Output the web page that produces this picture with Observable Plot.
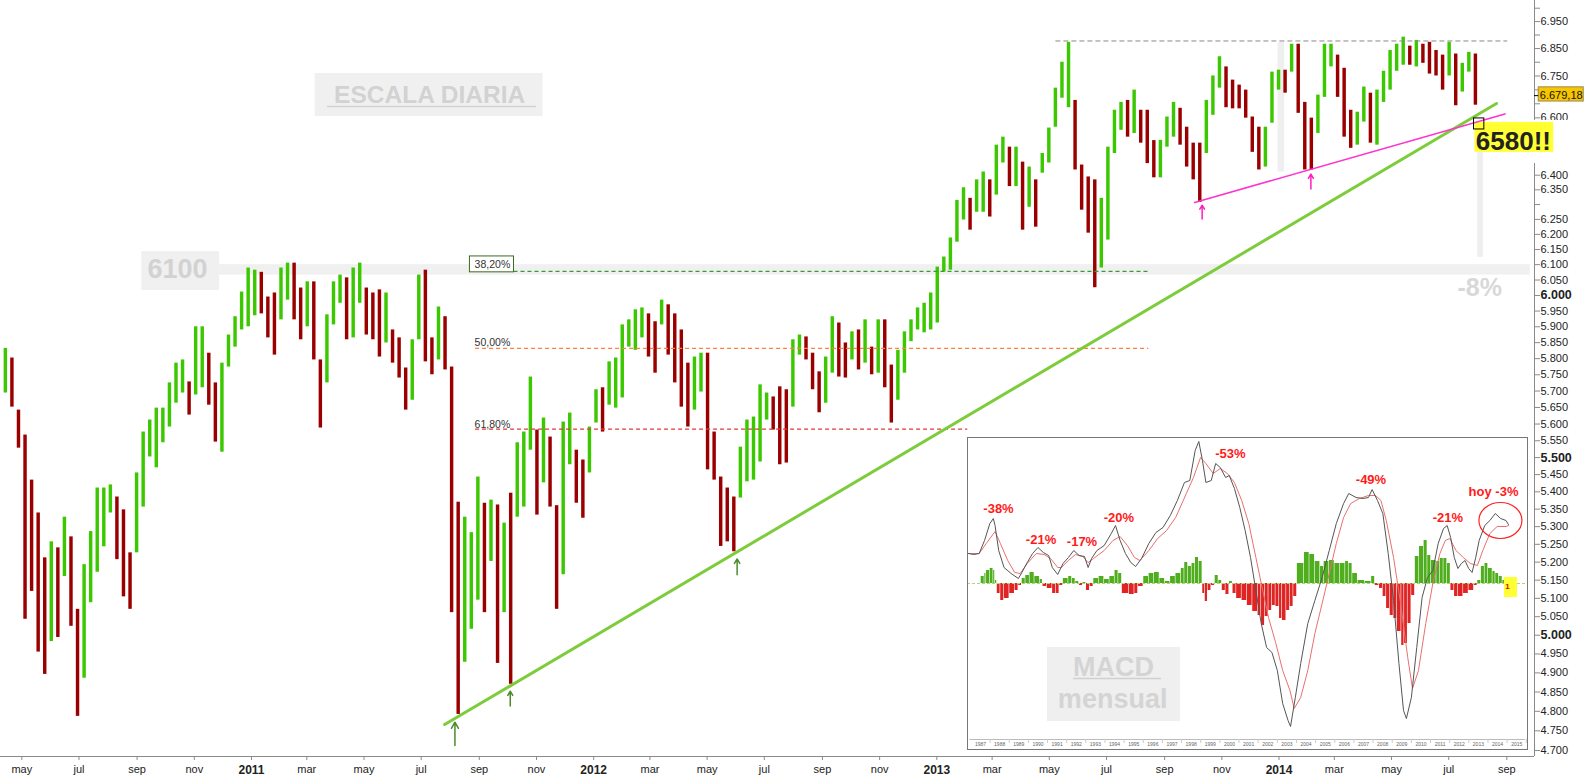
<!DOCTYPE html>
<html><head><meta charset="utf-8">
<script src="https://cdn.jsdelivr.net/npm/d3@7"></script>
<script src="https://cdn.jsdelivr.net/npm/@observablehq/plot@0.6"></script>
<style>
body{margin:0;background:#fff;}
#wrap{position:relative;width:1589px;height:776px;overflow:hidden;background:#fff;}
#wrap svg{display:block;}
</style></head><body><div id="wrap"></div>
<script>
// ---------- DATA: FTSE 100, weekly ranges ----------
const weekStart = "2010-04-14"; // Wednesday of first week, one bar per week
const highs = [
5832,5802,5642,5567,5434,5339,5212,5257,5240,5327,
5271,5070,5193,5286,5411,5411,5420,5385,5348,5226,
5455,5576,5612,5648,5648,5725,5786,5796,5728,5900,
5900,5817,5725,5786,5874,5932,6011,6089,6082,6075,
5995,6008,6089,6105,6105,6024,6044,6044,5796,5938,
6044,6066,6057,6089,6105,6024,6008,6018,6008,5890,
5865,5771,5859,6066,6082,5865,5963,5932,5774,5370,
5327,5283,5443,5367,5376,5362,5310,5396,5544,5576,
5743,5582,5618,5561,5360,5606,5633,5522,5493,5591,
5704,5710,5790,5802,5906,5922,5954,5960,5941,5916,
5985,5970,5941,5890,5786,5805,5817,5817,5576,5443,
5411,5385,5531,5612,5621,5719,5694,5682,5713,5704,
5859,5874,5868,5817,5759,5805,5932,5912,5849,5884,
5890,5922,5836,5922,5922,5780,5826,5884,5922,5960,
5975,6008,6092,6125,6188,6314,6357,6321,6384,6411,
6384,6504,6532,6497,6497,6445,6428,6384,6475,6564,
6706,6800,6873,6662,6435,6394,6384,6321,6497,6627,
6655,6662,6699,6627,6627,6520,6521,6603,6655,6634,
6567,6511,6511,6662,6750,6820,6783,6735,6717,6699,
6603,6567,6567,6764,6771,6771,6866,6866,6655,6599,
6681,6866,6866,6826,6778,6627,6620,6710,6688,6699,
6767,6843,6866,6892,6859,6880,6866,6873,6843,6826,
6873,6830,6796,6836,6830];
const lows = [
5694,5651,5528,5043,5119,4955,4896,4983,4994,5160,
5024,4787,4886,5088,5172,5243,5339,5207,5104,5070,
5226,5356,5502,5470,5544,5591,5663,5694,5627,5688,
5710,5657,5546,5516,5774,5836,5890,5900,5935,5941,
5865,5811,5922,5985,5922,5859,5900,5796,5588,5725,
5906,5975,5859,5865,5975,5874,5859,5805,5849,5786,
5740,5642,5672,5859,5790,5750,5796,5765,5061,4792,
4928,5016,5095,5061,5202,4925,5061,4870,5327,5356,
5522,5333,5426,5356,5070,5165,5479,5367,5324,5455,
5603,5576,5657,5648,5679,5836,5826,5865,5805,5755,
5906,5811,5725,5651,5591,5642,5697,5464,5434,5244,
5257,5229,5382,5429,5434,5487,5612,5582,5479,5484,
5651,5811,5796,5704,5634,5663,5755,5743,5740,5796,
5765,5786,5750,5755,5710,5603,5672,5755,5853,5890,
5881,5890,5912,6076,6082,6174,6248,6214,6274,6274,
6258,6332,6442,6361,6361,6214,6291,6224,6407,6442,
6567,6670,6636,6418,6281,6204,6025,6089,6181,6475,
6556,6532,6545,6511,6440,6391,6391,6497,6532,6504,
6428,6384,6307,6475,6609,6706,6636,6632,6632,6599,
6479,6418,6428,6581,6699,6688,6764,6616,6418,6418,
6545,6673,6783,6673,6532,6493,6504,6585,6511,6504,
6655,6699,6767,6789,6789,6783,6796,6757,6750,6699,
6750,6643,6692,6764,6645];
const lastClose = 6679.18;
const lastCloseLabel = "6.679,18";

// Fibonacci retracement (4785 -> 6878)
const fibLabels = ["38,20%", "50,00%", "61,80%"];
const fibValues = [6078, 5832, 5585];
const fibStart = ["2011-10-08", "2011-08-28", "2011-08-28"];
const fibEnd = ["2013-08-15", "2013-08-15", "2013-02-03"];
const fibLabelValues = [6101, 5851, 5599];
const fibLabelDate = "2011-09-15";
const topLevel = 6878, topLevelDates = ["2013-05-08", "2014-09-02"];

// trendlines [date, value]
const greenTrend = [["2011-07-26", 4766], ["2014-08-21", 6651]];
const pinkTrend = [["2013-10-03", 6307], ["2014-08-30", 6614]];
// arrows [date, bottom, tip]
const greenArrows = [["2011-08-06", 4713, 4772], ["2011-10-04", 4814, 4852], ["2012-06-02", 5165, 5209]];
const pinkArrows = [["2013-10-11", 6251, 6298], ["2014-02-04", 6353, 6404]];

// annotation boxes [date1, date2, value1, value2]
const band6100 = ["2010-11-28", "2014-09-26", 6066, 6100];
const box6100 = ["2010-09-06", "2010-11-28", 6016, 6143];
const escalaBox = ["2011-03-10", "2011-11-08", 6605, 6759];
const janBar = ["2013-12-31", "2014-01-07", 6411, 6872];
const fib38Box = ["2011-08-22", "2011-10-08", 6075, 6127];
const whiteBox = ["2014-07-28", "2014-11-27", 6440, 6591];
const dropBar = ["2014-08-01", "2014-08-07", 6124, 6479];
const yellowBox = ["2014-07-29", "2014-10-21", 6479, 6584];
const crossBox = ["2014-07-28", "2014-08-08", 6559, 6598];
const priceBox = ["2014-10-05", "2014-11-22", 6658, 6709];
// annotation texts [text, date, value]
const mainTexts = [
  ["ESCALA DIARIA", "2011-07-10", 6680],
  ["6100", "2010-10-14", 6086],
  ["6580!!", "2014-09-08", 6515],
  ["-8%", "2014-08-03", 6025]
];
const escalaUnderline = ["2011-03-23", "2011-11-01", 6640];

// axis ticks (labels hidden behind the annotations are left blank)
const yUnlabeled = [6300, 6450, 6500, 6550, 6650, 6700, 6800, 6900, 7000];
const yBold = ["6.000", "5.500", "5.000"];
const monthNames = ["ene","feb","mar","abr","may","jun","jul","ago","sep","oct","nov","dic"];

// ---------- MACD mensual inset (arbitrary units, zero = histogram baseline) ----------
const macdLine = [[1986.37,30],[1986.65,29],[1986.93,30],[1987.21,43],[1987.49,60],[1987.67,65],[1987.76,58],[1987.95,33],[1988.23,16],[1988.60,10],[1988.98,5],[1989.16,11],[1989.44,21],[1989.72,30],[1990.00,36],[1990.28,31],[1990.56,28],[1990.75,16],[1991.03,9],[1991.31,20],[1991.59,26],[1991.87,33],[1992.15,28],[1992.43,27],[1992.62,16],[1992.80,25],[1993.08,33],[1993.46,38],[1993.83,50],[1994.05,58],[1994.29,43],[1994.57,30],[1994.85,21],[1995.10,17],[1995.41,25],[1995.79,40],[1996.16,51],[1996.53,56],[1996.91,68],[1997.28,83],[1997.65,101],[1997.93,103],[1998.21,133],[1998.40,142],[1998.59,123],[1998.77,101],[1999.05,103],[1999.28,120],[1999.52,116],[1999.80,106],[1999.99,108],[2000.26,95],[2000.54,76],[2000.82,53],[2001.10,26],[2001.38,-7],[2001.66,-40],[2001.94,-64],[2002.22,-69],[2002.50,-87],[2002.78,-120],[2003.06,-137],[2003.19,-143],[2003.44,-114],[2003.72,-80],[2004.09,-40],[2004.46,-17],[2004.84,6],[2005.21,33],[2005.58,60],[2005.96,80],[2006.23,90],[2006.61,86],[2006.98,85],[2007.26,86],[2007.45,94],[2007.73,83],[2008.01,70],[2008.29,30],[2008.57,-17],[2008.85,-80],[2009.09,-127],[2009.24,-135],[2009.50,-114],[2009.78,-64],[2010.06,-14],[2010.34,6],[2010.62,13],[2010.90,40],[2011.18,55],[2011.37,58],[2011.55,46],[2011.74,26],[2011.93,15],[2012.11,20],[2012.30,23],[2012.49,15],[2012.67,11],[2012.86,26],[2013.04,43],[2013.33,58],[2013.60,63],[2013.88,70],[2014.16,65],[2014.44,63],[2014.57,59]];
const signalLine = [[1986.37,30],[1986.93,30],[1987.30,40],[1987.76,52],[1988.04,40],[1988.42,23],[1988.79,11],[1989.07,10],[1989.44,20],[1989.91,30],[1990.32,29],[1990.66,25],[1991.03,16],[1991.22,16],[1991.59,23],[1991.96,29],[1992.34,27],[1992.62,21],[1992.90,25],[1993.46,33],[1993.92,43],[1994.29,47],[1994.67,38],[1995.04,26],[1995.32,23],[1995.79,33],[1996.25,45],[1996.72,53],[1997.19,66],[1997.75,90],[1998.12,106],[1998.49,126],[1998.77,120],[1999.15,110],[1999.52,115],[1999.89,110],[2000.26,101],[2000.64,83],[2001.01,60],[2001.38,26],[2001.66,0],[2002.04,-34],[2002.41,-59],[2002.78,-87],[2003.16,-107],[2003.38,-125],[2003.72,-114],[2004.09,-87],[2004.46,-50],[2004.84,-20],[2005.21,10],[2005.58,40],[2005.96,66],[2006.33,80],[2006.79,85],[2007.26,88],[2007.63,88],[2007.91,83],[2008.19,63],[2008.57,26],[2008.94,-20],[2009.31,-74],[2009.56,-105],[2009.87,-87],[2010.25,-40],[2010.62,0],[2010.99,30],[2011.27,43],[2011.51,45],[2011.83,33],[2012.21,26],[2012.58,20],[2012.95,18],[2013.23,33],[2013.60,50],[2013.98,57],[2014.44,57],[2014.57,58]];
const histogram = [[1987.02,7],[1987.21,10],[1987.30,13],[1987.49,15],[1987.67,13],[1987.76,3],[1987.86,-10],[1988.04,-17],[1988.23,-15],[1988.51,-10],[1988.79,-7],[1988.98,-2],[1989.16,5],[1989.35,8],[1989.57,11],[1989.82,7],[1990.10,4],[1990.25,-3],[1990.47,-5],[1990.75,-10],[1990.94,-10],[1991.12,-2],[1991.31,5],[1991.59,7],[1991.78,5],[1991.96,2],[1992.15,-2],[1992.34,1],[1992.52,-7],[1992.71,-3],[1992.90,5],[1993.18,7],[1993.46,4],[1993.74,7],[1994.01,13],[1994.20,10],[1994.39,-10],[1994.76,-11],[1995.04,-10],[1995.23,-3],[1995.51,7],[1995.79,10],[1996.07,11],[1996.35,5],[1996.63,2],[1996.91,7],[1997.19,10],[1997.47,15],[1997.65,21],[1997.84,17],[1998.03,20],[1998.21,26],[1998.40,22],[1998.59,-10],[1998.72,-18],[1998.87,-7],[1999.05,-2],[1999.24,8],[1999.43,3],[1999.61,-7],[1999.80,-11],[1999.99,2],[2000.17,-10],[2000.36,-15],[2000.64,-17],[2000.92,-22],[2001.20,-28],[2001.48,-32],[2001.66,-42],[2001.85,-33],[2002.04,-27],[2002.22,-22],[2002.41,-23],[2002.60,-35],[2002.75,-37],[2002.97,-27],[2003.16,-23],[2003.34,-13],[2003.53,20],[2003.90,31],[2004.18,29],[2004.46,22],[2004.74,17],[2004.93,22],[2005.21,23],[2005.49,20],[2005.77,20],[2006.05,22],[2006.23,20],[2006.42,10],[2006.70,3],[2007.07,2],[2007.41,7],[2007.60,-2],[2007.82,-5],[2008.01,-13],[2008.19,-25],[2008.38,-32],[2008.57,-35],[2008.75,-48],[2008.98,-62],[2009.13,-60],[2009.31,-40],[2009.50,-12],[2009.69,27],[2009.91,37],[2010.15,43],[2010.34,28],[2010.53,23],[2010.81,22],[2010.99,25],[2011.18,25],[2011.37,20],[2011.55,-7],[2011.74,-13],[2011.93,-13],[2012.21,-10],[2012.49,-7],[2012.77,-2],[2012.95,3],[2013.14,17],[2013.33,20],[2013.51,15],[2013.74,12],[2013.89,10],[2014.07,7],[2014.26,3],[2014.44,2]];
const insetYears = [1987,1988,1989,1990,1991,1992,1993,1994,1995,1996,1997,1998,1999,2000,2001,2002,2003,2004,2005,2006,2007,2008,2009,2010,2011,2012,2013,2014,2015];
// [label, year, value]
const insetLabels = [["-38%",1987.94,75],["-21%",1990.16,44],["-17%",1992.30,42],["-20%",1994.23,66],["-53%",2000.05,130],["-49%",2007.39,104],["-21%",2011.41,66],["hoy -3%",2013.79,92]];
const todayCircle = [2014.15, 63];
const todayBox = [2014.36, 2015.04, -14, 6];
const todayMark = ["1", 2014.52, -3];
const macdBox = [1990.5, 1997.44, -138, -64];
const macdTexts = [["MACD", 1993.95, -84], ["mensual", 1993.9, -116]];
const macdUnderline = [1991.86, 1996.45, -95];

// ---------- STYLES ----------
const UP = "#3cc800", DOWN = "#9a0000";
const fibColors = ["#3a9a3a", "#ff8040", "#e03a3a"];
const FONT = "'Liberation Sans', Arial, sans-serif";

// ---------- BUILD ----------
const D = s => new Date(s + "T00:00:00Z");
const box = a => ({x1: D(a[0]), x2: D(a[1]), y1: a[2], y2: a[3]});
const weeks = highs.map((h, i) => ({date: d3.utcDay.offset(D(weekStart), 7 * i), high: h, low: lows[i]}));
weeks.forEach((w, i) => {
  const m = (w.high + w.low) / 2;
  const p = i ? (weeks[i - 1].high + weeks[i - 1].low) / 2 : m;
  w.up = m >= p;
});
const fib = fibValues.map((v, i) => ({v, x1: D(fibStart[i]), x2: D(fibEnd[i]), label: fibLabels[i], ly: fibLabelValues[i], color: fibColors[i]}));
const xDomain = [new Date("2010-04-08T07:00:00Z"), new Date("2014-09-30T12:00:00Z")];
const yDomain = [4685, 7029];
const yTicks = d3.range(4700, 7001, 50);
const xTicks = d3.utcMonth.every(2).range(D("2010-05-01"), D("2014-10-01"));
const fmtY = v => (v / 1000).toFixed(3);
const rectOpts = (color, extra = {}) => ({x1: "x1", x2: "x2", y1: "y1", y2: "y2", fill: color, ...extra});
const textAt = (arr, opts) => Plot.text([arr], {x: d => D(d[1]), y: d => d[2], text: d => d[0], ...opts});

const main = Plot.plot({
  width: 1589, height: 776,
  marginLeft: 0, marginRight: 55, marginTop: 0, marginBottom: 20,
  style: {fontFamily: FONT, background: "#fff", overflow: "visible"},
  x: {type: "utc", domain: xDomain},
  y: {type: "log", domain: yDomain},
  marks: [
    Plot.rect([box(band6100)], rectOpts("#f0f0f0")),
    Plot.rect([box(janBar)], rectOpts("#efefef")),
    Plot.rect(weeks, {x1: d => d3.utcHour.offset(d.date, -44), x2: d => d3.utcHour.offset(d.date, 44), y1: "low", y2: "high", fill: d => d.up ? UP : DOWN}),
    Plot.ruleY(fib, {y: "v", x1: "x1", x2: "x2", stroke: "color", strokeWidth: 1.2, strokeDasharray: "4,3"}),
    Plot.rect([box(fib38Box)], rectOpts("#fff", {stroke: "#3d6b1f", strokeWidth: 1})),
    Plot.text(fib, {x: D(fibLabelDate), y: "ly", text: "label", fontSize: 10.5, fill: "#333"}),
    Plot.ruleY([topLevel], {x1: D(topLevelDates[0]), x2: D(topLevelDates[1]), stroke: "#888", strokeDasharray: "5,3"}),
    Plot.rect([box(escalaBox)], rectOpts("#f0f0f0")),
    textAt(mainTexts[0], {fontSize: 24.5, fontWeight: "bold", fill: "#d2d2d2"}),
    Plot.ruleY([escalaUnderline], {y: d => d[2], x1: d => D(d[0]), x2: d => D(d[1]), stroke: "#d2d2d2", strokeWidth: 1.5}),
    Plot.rect([box(box6100)], rectOpts("#f0f0f0")),
    textAt(mainTexts[1], {fontSize: 27, fontWeight: "bold", fill: "#d2d2d2"}),
    Plot.ruleX([xDomain[1]], {stroke: "#8a8a8a"}),
    Plot.ruleY([yDomain[0]], {stroke: "#8a8a8a"}),
    Plot.axisY(yTicks, {anchor: "right", tickSize: 5, tickPadding: 1, fontSize: 11, stroke: "#8a8a8a", fill: "#222", label: null,
      tickFormat: v => yUnlabeled.includes(v) ? "" : fmtY(v)}),
    Plot.axisX(xTicks, {anchor: "bottom", tickSize: 4, tickPadding: 5, fontSize: 11, stroke: "#8a8a8a", fill: "#222", label: null,
      tickFormat: d => d.getUTCMonth() === 0 ? String(d.getUTCFullYear()) : monthNames[d.getUTCMonth()]}),
    Plot.rect([box(whiteBox)], rectOpts("#fff")),
    Plot.rect([box(dropBar)], rectOpts("#eeeeee")),
    Plot.rect([box(yellowBox)], rectOpts("#ffff33")),
    textAt(mainTexts[2], {fontSize: 26, fontWeight: "bold", fill: "#222"}),
    textAt(mainTexts[3], {fontSize: 25, fontWeight: "bold", fill: "#d8d8d8"}),
    Plot.line(greenTrend, {x: d => D(d[0]), y: d => d[1], stroke: "#7dcc3c", strokeWidth: 3}),
    Plot.line(pinkTrend, {x: d => D(d[0]), y: d => d[1], stroke: "#ff33cc", strokeWidth: 1.6}),
    Plot.arrow(greenArrows, {x1: d => D(d[0]), x2: d => D(d[0]), y1: d => d[1], y2: d => d[2], stroke: "#4d8a2e", strokeWidth: 1.5, headLength: 7}),
    Plot.arrow(pinkArrows, {x1: d => D(d[0]), x2: d => D(d[0]), y1: d => d[1], y2: d => d[2], stroke: "#ff1fbf", strokeWidth: 1.5, headLength: 7}),
    Plot.rect([box(crossBox)], rectOpts("none", {stroke: "#000", strokeWidth: 1})),
    Plot.rect([box(priceBox)], rectOpts("#f7c600", {stroke: "#9a8a50", strokeWidth: 1})),
    Plot.ruleY([lastClose], {x1: xDomain[1], x2: D(priceBox[0]), stroke: "#000"}),
    Plot.text([lastCloseLabel], {x: D("2014-10-29"), y: lastClose, text: d => d, fontSize: 11, fill: "#111"})
  ]
});

d3.select(main).selectAll('g[aria-label="x-axis tick label"] text')
  .filter(function () { return /^\d{4}$/.test(this.textContent); })
  .attr("font-weight", "bold").attr("font-size", 12);
d3.select(main).selectAll('g[aria-label="y-axis tick label"] text')
  .filter(function () { return yBold.includes(this.textContent); })
  .attr("font-weight", "bold").attr("font-size", 12.5);
// drop empty tick-label nodes
d3.select(main).selectAll('g[aria-label="y-axis tick label"] text')
  .filter(function () { return this.textContent === ""; }).remove();

// ellipse symbol for the "hoy" circle
const ellipse = {draw(ctx) {
  const a = 21.5, b = 18, k = 0.5523;
  ctx.moveTo(a, 0);
  ctx.bezierCurveTo(a, k * b, k * a, b, 0, b);
  ctx.bezierCurveTo(-k * a, b, -a, k * b, -a, 0);
  ctx.bezierCurveTo(-a, -k * b, -k * a, -b, 0, -b);
  ctx.bezierCurveTo(k * a, -b, a, -k * b, a, 0);
  ctx.closePath();
}};
const hist = histogram.map((d, i) => ({t: d[0], v: d[1], t2: i < histogram.length - 1 ? histogram[i + 1][0] : d[0] + 0.15}));

const inset = Plot.plot({
  width: 560, height: 312, margin: 0,
  style: {fontFamily: FONT, background: "#fff", overflow: "visible"},
  x: {domain: [1986.321, 2015.564], axis: null},
  y: {domain: [-166, 146], axis: null},
  marks: [
    Plot.rect([macdBox], {x1: d => d[0], x2: d => d[1], y1: d => d[2], y2: d => d[3], fill: "#efefef"}),
    Plot.text(macdTexts, {x: d => d[1], y: d => d[2], text: d => d[0], fontSize: 27, fontWeight: "bold", fill: "#d4d4d4"}),
    Plot.ruleY([macdUnderline], {x1: d => d[0], x2: d => d[1], y: d => d[2], stroke: "#d0d0d0", strokeWidth: 1.5}),
    Plot.rect(hist, {x1: "t", x2: "t2", y1: () => 0, y2: "v", fill: d => d.v >= 0 ? "#4fae1e" : "#e02424", insetLeft: 0.3, insetRight: 0.3}),
    Plot.ruleY([0], {stroke: "#a9d77a", strokeDasharray: "3,2"}),
    Plot.line(signalLine, {x: d => d[0], y: d => d[1], stroke: "#e87070", strokeWidth: 1}),
    Plot.line(macdLine, {x: d => d[0], y: d => d[1], stroke: "#555", strokeWidth: 1}),
    Plot.ruleY([-156], {x1: 1986.45, x2: 2015.45, stroke: "#bbb"}),
    Plot.ruleX(insetYears, {x: d => d + 0.5, y1: -156, y2: -160, stroke: "#ccc"}),
    Plot.text(insetYears, {x: d => d, y: -161, text: d => String(d), fontSize: 5, fill: "#666"}),
    Plot.text(insetLabels, {x: d => d[1], y: d => d[2], text: d => d[0], fontSize: 13, fontWeight: "bold", fill: "#ff1a1a"}),
    Plot.dot([todayCircle], {x: d => d[0], y: d => d[1], symbol: ellipse, r: 20, stroke: "#ff2020", fill: "none", strokeWidth: 1.2}),
    Plot.rect([todayBox], {x1: d => d[0], x2: d => d[1], y1: d => d[2], y2: d => d[3], fill: "#ffff33"}),
    Plot.text([todayMark], {x: d => d[1], y: d => d[2], text: d => d[0], fontSize: 8, fontWeight: "bold", fill: "#e00000"}),
    Plot.frame({stroke: "#777"})
  ]
});
inset.style.position = "absolute";
inset.style.left = "967px";
inset.style.top = "437px";

const wrap = document.getElementById("wrap");
wrap.append(main);
wrap.append(inset);
</script>
</body></html>
